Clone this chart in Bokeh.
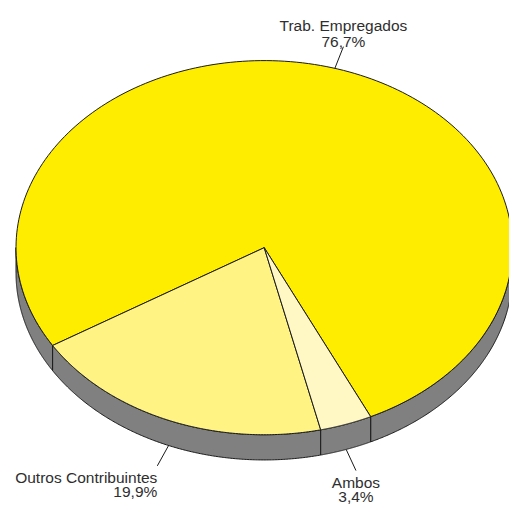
import numpy as np
from bokeh.plotting import figure
from bokeh.models import Range1d
from bokeh.core.properties import value
from bokeh.embed import file_html
from bokeh.resources import INLINE

# ---- data ----
categories = ["Trab. Empregados", "Outros Contribuintes", "Ambos"]
values = [76.7, 19.9, 3.4]
pct_labels = ["76,7%", "19,9%", "3,4%"]
colors = ["#FFED00", "#FFF383", "#FFF8C4"]

# ---- layout (data units = reference pixels, 525 x 521) ----
W, H = 509, 505
REF_W, REF_H = 525, 521
CX, CY, RX, RY, DEPTH = 272, 255, 256, 193, 26
START = 424.6          # parametric angle (deg, screen-clockwise) where first slice begins
SIDE_COLOR = "#808080"
EDGE = "#1a1a1a"
TXT = "#2e2e2e"
FONT = "Liberation Sans"

p = figure(width=W, height=H,
           x_range=Range1d(0, REF_W), y_range=Range1d(REF_H, 0),
           output_backend="svg", toolbar_location=None,
           x_axis_location=None, y_axis_location=None,
           min_border=0, outline_line_color=None)
p.grid.visible = False
p.background_fill_color = "white"


def arc(a, b, dy=0.0, n=200):
    t = np.radians(np.linspace(a, b, n))
    return CX + RX * np.cos(t), CY + RY * np.sin(t) + dy


total = float(sum(values))
spans = [v / total * 360.0 for v in values]

bounds = []
t0 = START
for s in spans:
    bounds.append((t0, t0 - s))
    t0 = t0 - s

# side walls (front half only)
side_xs, side_ys = [], []
for a, b in bounds:
    lo_all, hi_all = b, a
    for k in range(-2, 3):
        lo = max(lo_all, 360 * k)
        hi = min(hi_all, 360 * k + 180)
        if hi > lo:
            x1, y1 = arc(lo, hi)
            x2, y2 = arc(hi, lo, DEPTH)
            side_xs.append(list(np.concatenate([x1, x2])))
            side_ys.append(list(np.concatenate([y1, y2])))
p.patches(side_xs, side_ys, fill_color=SIDE_COLOR, line_color=EDGE, line_width=1)

# top faces
top_xs, top_ys = [], []
for a, b in bounds:
    x, y = arc(a, b)
    top_xs.append([CX] + list(x))
    top_ys.append([CY] + list(y))
p.patches(top_xs, top_ys, fill_color=colors, line_color=EDGE, line_width=1)

# leader lines and labels
L = 24
for (a, b), name, pct in zip(bounds, categories, pct_labels):
    m = np.radians((a + b) / 2.0)
    c, s = np.cos(m), np.sin(m)
    sx = CX + RX * c
    sy = CY + RY * s + (DEPTH if s > 0 else 0)
    dx, dy = c * RX / RY, s
    nrm = np.hypot(dx, dy)
    ex, ey = sx + L * dx / nrm, sy + L * dy / nrm
    p.segment(x0=[sx], y0=[sy], x1=[ex], y1=[ey], line_color=EDGE, line_width=1)
    if abs(c) > 0.35:
        align = "right" if c < 0 else "left"
    else:
        align = "center"
    if s > 0:
        b1 = ey + 12
        b2 = b1 + 14.5
    else:
        b2 = ey - 5
        b1 = b2 - 16.5
    for txt, yy in ((name, b1), (pct, b2)):
        p.text(x=[ex], y=[yy], text=[txt], text_align=align,
               text_baseline="alphabetic", text_font=value(FONT),
               text_font_size="15.5px", text_color=TXT)

open("out.html", "w").write(file_html(p, INLINE))
